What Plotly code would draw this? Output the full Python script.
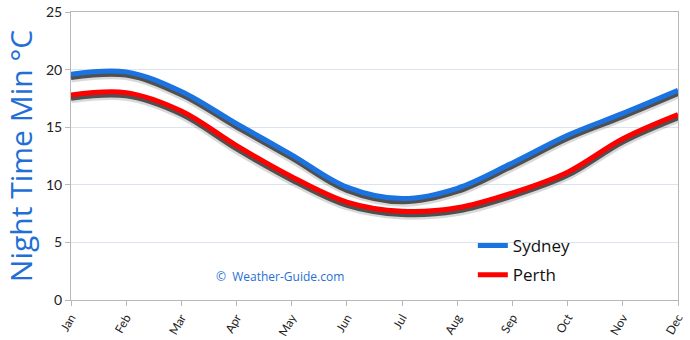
import plotly.graph_objects as go

months = ["Jan", "Feb", "Mar", "Apr", "May", "Jun", "Jul", "Aug", "Sep", "Oct", "Nov", "Dec"]
sydney = [19.6, 19.8, 18.1, 15.3, 12.6, 9.8, 8.8, 9.7, 11.9, 14.3, 16.2, 18.2]
perth = [17.8, 18.0, 16.4, 13.4, 10.7, 8.5, 7.7, 8.0, 9.3, 11.1, 14.0, 16.1]
y_ticks = [0, 5, 10, 15, 20, 25]

series = [("Sydney", sydney, "#1a73e0"), ("Perth", perth, "#ff0000")]

fig = go.Figure()

# soft drop shadows (drawn on a slightly shifted hidden axis)
for name, vals, col in series:
    fig.add_trace(go.Scatter(x=months, y=vals, mode="lines", yaxis="y",
                             line=dict(color="rgba(0,0,0,0.15)", width=10, shape="spline"),
                             showlegend=False, hoverinfo="skip"))
    fig.add_trace(go.Scatter(x=months, y=vals, mode="lines", yaxis="y",
                             line=dict(color="rgba(45,45,45,0.8)", width=5, shape="spline"),
                             showlegend=False, hoverinfo="skip"))

for i, (name, vals, col) in enumerate(series):
    fig.add_trace(go.Scatter(x=months, y=vals, mode="lines", yaxis="y2", name=name,
                             legendgroup=name,
                             line=dict(color=col, width=5, shape="spline")))

fig.update_layout(
    width=690, height=340,
    margin=dict(l=71, r=12, t=12, b=40, autoexpand=False),
    paper_bgcolor="white", plot_bgcolor="white",
    xaxis=dict(showgrid=False, showline=True, linecolor="#b8b8b8", linewidth=1,
               ticks="outside", ticklen=5, tickcolor="#b8b8b8", automargin=False,
               tickangle=-60, tickfont=dict(family="Lato", size=12, color="#222"),
               range=[0, 11], mirror=True),
    yaxis=dict(range=[0.28, 25.28], showgrid=False, showticklabels=False,
               zeroline=False, showline=False, ticks="", automargin=False),
    yaxis2=dict(overlaying="y", side="left", range=[0, 25], tickvals=y_ticks,
                showgrid=True, gridcolor="#dae3ef", gridwidth=1, zeroline=False,
                showline=True, linecolor="#b8b8b8", mirror=True, automargin=False,
                ticks="outside", ticklen=5, tickcolor="#b8b8b8",
                tickfont=dict(family="Lato", size=14, color="#222"),
                title=dict(text="Night Time Min °C",
                           font=dict(family="Open Sans", size=30, color="#1f6fd6"),
                           standoff=12)),
    legend=dict(x=0.662, y=0.25, xanchor="left", yanchor="top",
                bgcolor="rgba(0,0,0,0)", traceorder="grouped", tracegroupgap=4,
                itemwidth=30,
                font=dict(family="Open Sans", size=17, color="#111")),
    annotations=[dict(text="©  Weather-Guide.com", xref="paper", yref="paper",
                      x=0.344, y=0.08, yanchor="middle", showarrow=False,
                      font=dict(family="Open Sans", size=12, color="#1f6fd6"))],
)

fig.write_html("out.html")
